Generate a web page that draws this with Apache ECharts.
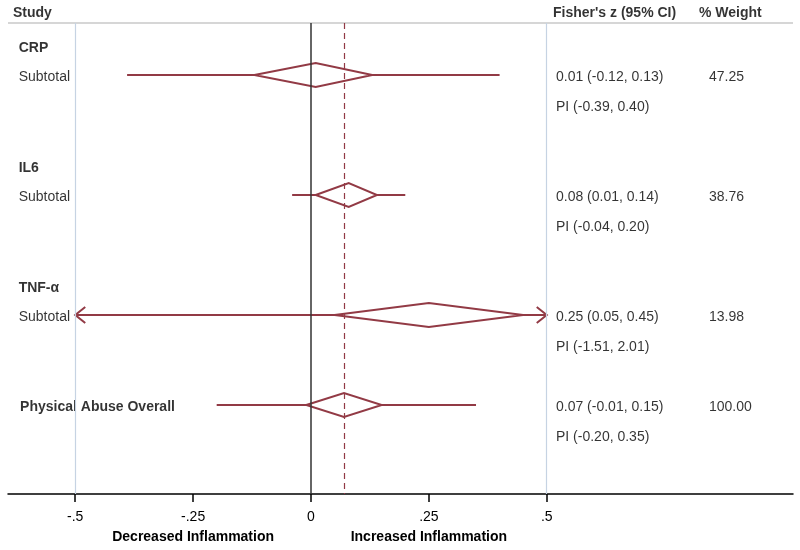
<!DOCTYPE html>
<html><head><meta charset="utf-8">
<script src="https://cdn.jsdelivr.net/npm/echarts@6/dist/echarts.min.js"></script>
<style>html,body{margin:0;padding:0;background:#fff}#c{width:800px;height:550px}</style>
</head><body><div id="c"></div>
<script>
// ---- data ----
const groupNames = ['CRP', 'IL6', 'TNF-α'];
const estimates = [0.01, 0.08, 0.25, 0.07];
const ciLow = [-0.12, 0.01, 0.05, -0.01];
const ciHigh = [0.13, 0.14, 0.45, 0.15];
const piLow = [-0.39, -0.04, -1.51, -0.20];
const piHigh = [0.40, 0.20, 2.01, 0.35];
const weights = ['47.25', '38.76', '13.98', '100.00'];
const rowLabels = ['Subtotal', 'Subtotal', 'Subtotal', 'Physical Abuse Overall'];
const estRows = [2, 6, 10, 13];
const headRows = [1, 5, 9];
const overallEffect = 0.07;
const tickValues = [-0.5, -0.25, 0, 0.25, 0.5];
const tickLabels = ['-.5', '-.25', '0', '.25', '.5'];
const directionLabels = {'-0.25': 'Decreased Inflammation', '0.25': 'Increased Inflammation'};
const colHeaders = ['Study', "Fisher's z (95% CI)", '% Weight'];

// ---- layout constants ----
const xMin = -0.6426, xMax = 1.0223;   // full panel width
const clipMin = -0.5, clipMax = 0.5;   // plotting region
const yMin = -0.5, yMax = 15.9667;
const topRule = 0.2667;
const red = '#923a45';
const fmt = v => v.toFixed(2);

const colStudy = -0.62, colStat = 0.5196, colWeight = 0.844;
const textOff = 0.07;

const texts = [];
texts.push({value: [-0.632, -0.07], name: colHeaders[0], bold: true});
texts.push({value: [0.5133, -0.07], name: colHeaders[1], bold: true});
texts.push({value: [0.823, -0.07], name: colHeaders[2], bold: true});
groupNames.forEach((g, i) => texts.push({value: [colStudy, headRows[i] + 0.1], name: g, bold: true}));
estimates.forEach((e, i) => {
  const r = estRows[i];
  texts.push({value: [i === 3 ? -0.617 : colStudy, r + textOff], name: rowLabels[i], bold: i === 3});
  texts.push({value: [colStat, r + textOff], name: fmt(e) + ' (' + fmt(ciLow[i]) + ', ' + fmt(ciHigh[i]) + ')'});
  texts.push({value: [colWeight, r + textOff], name: weights[i]});
  texts.push({value: [colStat, r + 1 + textOff], name: 'PI (' + fmt(piLow[i]) + ', ' + fmt(piHigh[i]) + ')'});
});
const textData = texts.map(t => ({
  value: t.value, name: t.name,
  label: {fontWeight: t.bold ? 'bold' : 'normal'}
}));

const piData = estimates.map((e, i) => [piLow[i], piHigh[i], ciLow[i], ciHigh[i], estRows[i]]);
const diaData = estimates.map((e, i) => [ciLow[i], e, ciHigh[i], estRows[i]]);

const chart = echarts.init(document.getElementById('c'), null, {renderer: 'canvas'});
const font = 'Liberation Sans, Arial, Helvetica, sans-serif';

chart.setOption({
  animation: false,
  textStyle: {fontFamily: font},
  grid: {left: 8, width: 785, top: 0, height: 494},
  xAxis: {
    type: 'value', min: xMin, max: xMax, position: 'bottom',
    splitLine: {show: false},
    axisLine: {show: true, onZero: false, lineStyle: {color: '#000', width: 1.5}},
    axisTick: {show: true, customValues: tickValues, length: 8, lineStyle: {color: '#000', width: 1.5}},
    axisLabel: {
      show: true, customValues: tickValues, margin: 15,
      color: '#000', fontSize: 14, lineHeight: 16, fontFamily: font,
      formatter: v => {
        const k = tickValues.findIndex(t => Math.abs(t - v) < 1e-6);
        const lab = k >= 0 ? tickLabels[k] : '';
        const d = directionLabels[String(tickValues[k])];
        return d ? lab + '\n{b|' + d + '}' : lab;
      },
      rich: {b: {fontWeight: 'bold', fontSize: 14, lineHeight: 24, color: '#000', fontFamily: font}}
    }
  },
  yAxis: {type: 'value', inverse: true, min: yMin, max: yMax, show: false},
  series: [
    {
      type: 'scatter', data: [], silent: true,
      markLine: {
        silent: true, symbol: 'none', animation: false,
        label: {show: false},
        data: [
          [{coord: [xMin, topRule], lineStyle: {color: '#c8c8c8', width: 1.5, type: 'solid'}}, {coord: [xMax, topRule]}],
          [{coord: [clipMin, topRule], lineStyle: {color: '#c6d3e3', width: 1.2, type: 'solid'}}, {coord: [clipMin, yMax]}],
          [{coord: [clipMax, topRule], lineStyle: {color: '#c6d3e3', width: 1.2, type: 'solid'}}, {coord: [clipMax, yMax]}]
        ]
      }
    },
    {
      type: 'custom', data: piData, silent: true, clip: false,
      renderItem: (params, api) => {
        const pl = api.value(0), ph = api.value(1), cl = api.value(2), ch = api.value(3), r = api.value(4);
        const lo = Math.max(pl, clipMin), hi = Math.min(ph, clipMax);
        const a = api.coord([lo, r]), b = api.coord([cl, r]), c = api.coord([ch, r]), d = api.coord([hi, r]);
        const st = {stroke: red, lineWidth: 2, fill: null};
        const kids = [
          {type: 'line', shape: {x1: a[0], y1: a[1], x2: b[0], y2: b[1]}, style: st},
          {type: 'line', shape: {x1: c[0], y1: c[1], x2: d[0], y2: d[1]}, style: st}
        ];
        if (pl < clipMin) kids.push({type: 'polyline', shape: {points: [[a[0] + 10, a[1] - 8], a, [a[0] + 10, a[1] + 8]]}, style: st});
        if (ph > clipMax) kids.push({type: 'polyline', shape: {points: [[d[0] - 10, d[1] - 8], d, [d[0] - 10, d[1] + 8]]}, style: st});
        return {type: 'group', children: kids};
      }
    },
    {
      type: 'custom', data: diaData, silent: true,
      renderItem: (params, api) => {
        const l = api.coord([api.value(0), api.value(3)]);
        const m = api.coord([api.value(1), api.value(3)]);
        const h = api.coord([api.value(2), api.value(3)]);
        return {
          type: 'polygon',
          shape: {points: [l, [m[0], m[1] - 12], h, [m[0], m[1] + 12]]},
          style: {stroke: red, lineWidth: 2, fill: null}
        };
      }
    },
    {
      type: 'scatter', data: [], silent: true,
      markLine: {
        silent: true, symbol: 'none', animation: false,
        label: {show: false},
        data: [
          [{coord: [0, topRule], lineStyle: {color: '#333', width: 1.5, type: 'solid'}}, {coord: [0, yMax]}],
          [{coord: [overallEffect, topRule], lineStyle: {color: red, width: 1.2, type: [6, 4]}}, {coord: [overallEffect, yMax]}]
        ]
      }
    },
    {
      type: 'scatter', data: textData, symbolSize: 0, silent: true,
      label: {
        show: true, position: 'right', distance: 0, formatter: '{b}',
        color: '#000', fontSize: 14, fontFamily: font
      }
    }
  ]
});
</script></body></html>
